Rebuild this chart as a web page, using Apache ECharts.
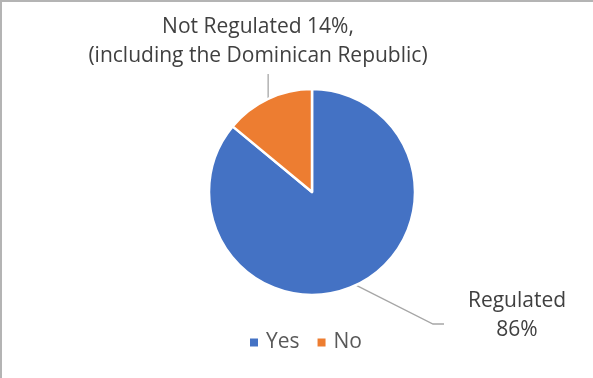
<!DOCTYPE html>
<html>
<head>
<meta charset="utf-8">
<script src="https://cdn.jsdelivr.net/npm/echarts@6/dist/echarts.min.js"></script>
<style>
  html, body { margin: 0; padding: 0; background: #fff; }
  #chart { width: 593px; height: 378px; box-sizing: border-box; border-left: 2px solid #b4b4b4; border-top: 2px solid #b4b4b4; }
</style>
</head>
<body>
<div id="chart"></div>
<script>
const categories = ['Yes', 'No'];
const shares = [86, 14];
const sliceLabels = ['Regulated\n86%', 'Not Regulated 14%,\n(including the Dominican Republic)'];
const colors = ['#4472C4', '#ED7D31'];

const chart = echarts.init(document.getElementById('chart'));

chart.setOption({
    animation: false,
    color: colors,
    legend: {
        bottom: 20,
        left: 241,
        icon: 'rect',
        itemWidth: 10,
        itemHeight: 10,
        itemGap: 16,
        textStyle: { color: '#595959', fontSize: 21, fontFamily: 'Open Sans', padding: [0, 0, 0, 2] },
        data: categories
    },
    series: [
        {
            type: 'pie',
            center: [310, 190],
            radius: 103,
            startAngle: 90,
            clockwise: true,
            itemStyle: { borderColor: '#fff', borderWidth: 2.5 },
            label: {
                show: true,
                color: '#404040',
                fontSize: 21,
                fontFamily: 'Open Sans',
                lineHeight: 29,
                align: 'center',
                overflow: 'none',
                formatter: p => sliceLabels[p.dataIndex]
            },
            labelLine: {
                show: true,
                lineStyle: { color: '#a6a6a6', width: 1.3 }
            },
            labelLayout: function (p) {
                const a = p.labelLinePoints ? p.labelLinePoints[0] : [0, 0];
                if (p.dataIndex === 1) {
                    return {
                        x: 256, y: 40,
                        align: 'center', verticalAlign: 'middle',
                        labelLinePoints: [[a[0], a[1]], [a[0], 72], [a[0], 72]]
                    };
                }
                return {
                    x: 515, y: 314,
                    align: 'center', verticalAlign: 'middle',
                    labelLinePoints: [[a[0], a[1]], [431, 322], [442, 322]]
                };
            },
            data: categories.map((c, i) => ({ name: c, value: shares[i] }))
        }
    ]
});
</script>
</body>
</html>
